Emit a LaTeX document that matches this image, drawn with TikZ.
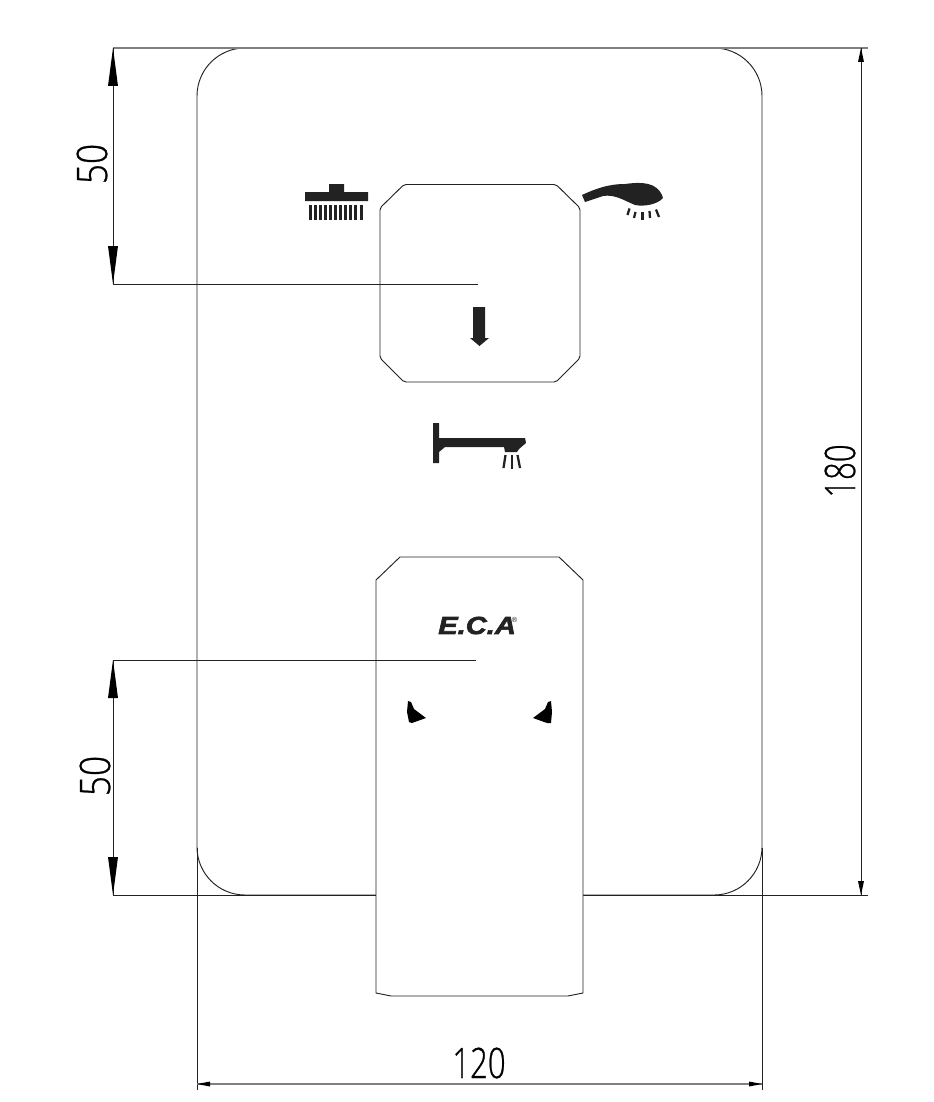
\documentclass[tikz,border=0pt]{standalone}
\usepackage{fontspec}
\setmainfont{Liberation Sans}
\newfontfamily\cadfont[FakeStretch=0.84,FakeBold=0.6]{Open Sans Light}
\newfontfamily\cadnarrow[FakeStretch=0.74,FakeBold=0.6]{Open Sans Light}
\newfontfamily\logofont[FakeStretch=1.18,BoldItalicFeatures={FakeBold=2.5}]{Liberation Sans}
\definecolor{ink}{HTML}{222222}
\definecolor{softline}{HTML}{808080}
\tikzset{
  part/.style={draw=ink,line width=0.7pt},
  dimline/.style={draw=ink,line width=0.62pt},
  softdim/.style={draw=softline,line width=1pt},
  tipshape/.style={fill=black,draw=none},
  solidicon/.style={fill=ink,draw=none},
  spray/.style={draw=ink,line width=1.7pt},
  dimtext/.style={font=\cadfont\fontsize{31.5}{31.5}\selectfont,text=black,inner sep=0pt},
  dimtextn/.style={font=\cadnarrow\fontsize{31.5}{31.5}\selectfont,text=black,inner sep=0pt},
}
\newcommand{\tipdown}[1]{\path[tipshape] (#1) -- ++(-5,-38) -- ++(10,0) -- cycle;}
\newcommand{\tipup}[1]{\path[tipshape] (#1) -- ++(-5,38) -- ++(10,0) -- cycle;}
\newcommand{\smallup}[1]{\path[tipshape] (#1) -- ++(-3,14) -- ++(6,0) -- cycle;}
\newcommand{\smalldown}[1]{\path[tipshape] (#1) -- ++(-3,-14) -- ++(6,0) -- cycle;}
\newcommand{\smallleft}[1]{\path[tipshape] (#1) -- ++(13,-2.5) -- ++(0,5) -- cycle;}
\newcommand{\smallright}[1]{\path[tipshape] (#1) -- ++(-13,-2.5) -- ++(0,5) -- cycle;}
\begin{document}
\begin{tikzpicture}[x=0.75pt,y=-0.75pt]
\useasboundingbox (0,0) rectangle (934,1102);
\fill[white] (0,0) rectangle (934,1102);
% dimension anchors
\coordinate (tl) at (113,48);
\coordinate (tr) at (868,48);
\coordinate (rt) at (861,48);
\coordinate (rb) at (861,895);
\coordinate (bl) at (113,895);
\coordinate (br) at (868,895);
\coordinate (ua) at (113,284);
\coordinate (ub) at (478,284);
\coordinate (la) at (113,660);
\coordinate (lb) at (476,660);
\coordinate (ex1) at (197,1090);
\coordinate (ex2) at (762,1090);
\coordinate (d1) at (197,1084);
\coordinate (d2) at (762,1084);
\coordinate (p1) at (197,848);
\coordinate (p2) at (762,848);
% plate
\draw[part,rounded corners=36pt] (197,895) -- (197,48) -- (762,48) -- (762,895) -- cycle;
% dimension lines
\draw[softdim] (tl) -- (tr);
\draw[dimline] (rt) -- (rb);
\draw[dimline] (bl) -- (br);
\draw[dimline] (tl) -- (ua) -- (ub);
\draw[dimline] (la) -- (bl);
\draw[dimline] (p1) -- (ex1);
\draw[dimline] (p2) -- (ex2);
\draw[softdim] (d1) -- (d2);
\tipup{tl}\tipdown{ua}\tipup{la}\tipdown{bl}
\smallup{rt}\smalldown{rb}
\smallleft{d1}\smallright{d2}
\node[dimtext,rotate=90] (t50a) at (92,164) {50};
\node[dimtext,rotate=90] (t50b) at (95,776) {50};
\node[dimtextn,rotate=90] (t180) at (840,471) {180};
\node[dimtextn] (t120) at (479,1063) {120};
% lever plate
\draw[part,rounded corners=1.5pt] (404,184.5) -- (556,184.5) -- (580,208) -- (580,358) -- (556,382) -- (404,382) -- (380,358) -- (380,208) -- cycle;
% handle
\draw[part,fill=white] (400,557) -- (559,557) -- (583,580) -- (583,993) -- (568,996) -- (391,996) -- (376,993) -- (376,580) -- cycle;
% upper line of the lower dimension, over the handle
\draw[dimline] (la) -- (lb);
% shower head icon
\path[solidicon] (305,192) -- (329,192) -- (329,184) -- (344,184) -- (344,192) -- (368,192) -- (368,201) -- (305,201) -- cycle;
\foreach \i in {0,...,10}{
  \path[solidicon] ({309+\i*5.05},205) rectangle ++(3,14.5);
}
% hand shower icon
\path[solidicon] (582,195) .. controls (595,189) and (608,184) .. (625,184)
  .. controls (640,182) and (658,181) .. (663,198)
  .. controls (658,204) and (645,207) .. (635,205)
  .. controls (625,201) and (615,194) .. (603,196) -- (585,202) -- cycle;
\draw[spray] (627.5,215) -- (629.5,208.5);
\draw[spray] (634,218) -- (635.5,212);
\draw[spray] (642.5,220) -- (642.5,212);
\draw[spray] (650,218) -- (649.5,211);
\draw[spray] (659,217) -- (656,209.5);
% spout icon
\path[solidicon] (433,423) -- (439,423) -- (439,438) -- (525,438) -- (526,443) -- (519,449) -- (517,452) -- (505,452) -- (504,447) -- (445,447) -- (439,452) -- (439,463) -- (433,463) -- cycle;
\draw[spray] (503.5,468) -- (505.5,455);
\draw[spray] (512,469) -- (512,455);
\draw[spray] (520,468) -- (517.5,455);
% arrow
\path[solidicon] (473,307) -- (485,307) -- (485,338) -- (489,338) -- (479.5,346) -- (470,338) -- (473,338) -- cycle;
% logo
\node[font=\logofont\bfseries\itshape\fontsize{18.5}{18.5}\selectfont,text=ink,inner sep=0pt,anchor=west] (eca) at (438,625.5) {E.C.A};
\node[font=\fontsize{5.5}{5.5}\selectfont,text=ink,inner sep=0pt] (reg) at (514.5,619.5) {®};
% horn marks
\path[fill=black] (408,701) -- (411,702) -- (414,709) -- (426,718) -- (412,723) -- (409,722) -- (407,712) -- cycle;
\path[fill=black] (551,701) -- (548,702) -- (545,709) -- (533,718) -- (547,723) -- (551,723) -- (552,712) -- cycle;
\end{tikzpicture}
\end{document}
